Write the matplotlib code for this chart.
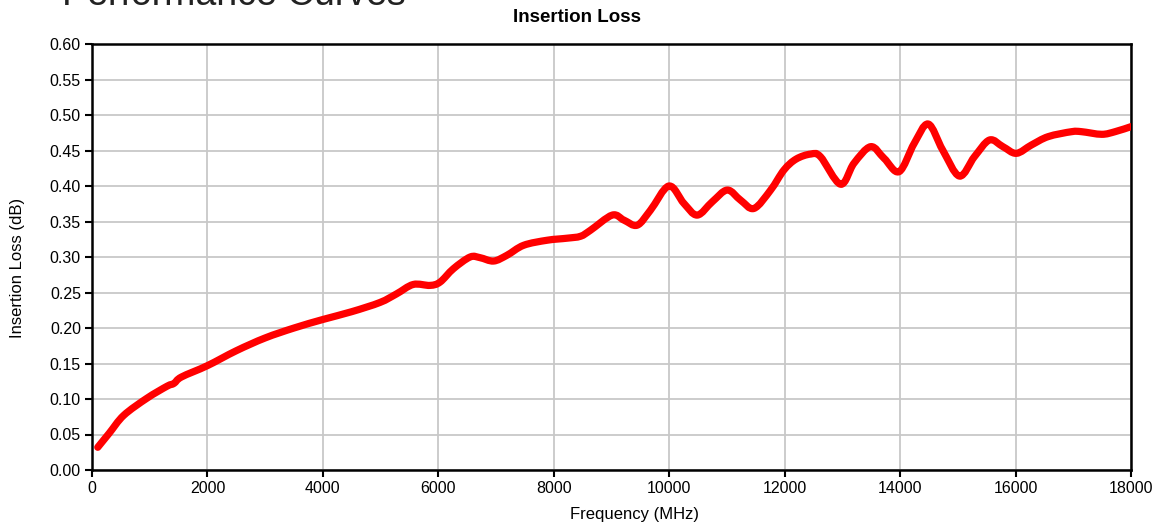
import matplotlib
matplotlib.use("Agg")
import matplotlib.pyplot as plt
from matplotlib.path import Path
from matplotlib.patches import PathPatch

plt.rcParams['font.family'] = ['Liberation Sans', 'DejaVu Sans']

freq_mhz = [100, 300, 550, 950, 1300, 1420, 1550, 2000, 2500, 3000, 3500, 4000,
            4500, 4990, 5275, 5565, 5855, 6029, 6261, 6551, 6725, 6957, 7188,
            7478, 7884, 8232, 8464, 8636, 9012, 9214, 9445, 9676, 9994, 10254,
            10485, 10746, 11006, 11237, 11468, 11757, 11988, 12200, 12452,
            12620, 12968, 13200, 13490, 13722, 13983, 14244, 14487, 14737,
            15027, 15288, 15549, 15781, 16013, 16274, 16564, 16970, 17144,
            17492, 17724, 18000]
insertion_loss_db = [0.032, 0.052, 0.077, 0.101, 0.118, 0.122, 0.131, 0.147,
                     0.168, 0.186, 0.200, 0.212, 0.223, 0.236, 0.248, 0.2613,
                     0.260, 0.2646, 0.2835, 0.300, 0.299, 0.2943, 0.3024,
                     0.3165, 0.3236, 0.3265, 0.3292, 0.3377, 0.359, 0.352,
                     0.3448, 0.366, 0.400, 0.3755, 0.359, 0.3778, 0.3943,
                     0.380, 0.3684, 0.3943, 0.4226, 0.438, 0.445, 0.4413,
                     0.4025, 0.432, 0.4554, 0.439, 0.4202, 0.460, 0.4873,
                     0.4507, 0.414, 0.4413, 0.4648, 0.4554, 0.446, 0.4577,
                     0.4695, 0.4765, 0.4765, 0.4728, 0.4765, 0.4836]

x_ticks = [0, 2000, 4000, 6000, 8000, 10000, 12000, 14000, 16000, 18000]
y_ticks = [0.00, 0.05, 0.10, 0.15, 0.20, 0.25, 0.30, 0.35, 0.40, 0.45, 0.50, 0.55, 0.60]


def smooth_path(xs, ys):
    # Excel-style smoothed line: Catmull-Rom segments as cubic Beziers
    pts = list(zip(xs, ys))
    n = len(pts)
    verts = [pts[0]]
    codes = [Path.MOVETO]
    for i in range(n - 1):
        p0 = pts[i - 1] if i > 0 else pts[i]
        p1 = pts[i]
        p2 = pts[i + 1]
        p3 = pts[i + 2] if i + 2 < n else pts[i + 1]
        c1 = (p1[0] + (p2[0] - p0[0]) / 6, p1[1] + (p2[1] - p0[1]) / 6)
        c2 = (p2[0] - (p3[0] - p1[0]) / 6, p2[1] - (p3[1] - p1[1]) / 6)
        verts += [c1, c2, p2]
        codes += [Path.CURVE4] * 3
    return Path(verts, codes)


fig = plt.figure(figsize=(11.55, 5.25), dpi=100)
ax = fig.add_axes([92/1155, 1-470/525, (1131-92)/1155, (470-44)/525])

patch = PathPatch(smooth_path(freq_mhz, insertion_loss_db), fill=False,
                  edgecolor='#ff0000', lw=5.2, capstyle='round',
                  joinstyle='round', zorder=3)
ax.add_patch(patch)

ax.set_xlim(0, 18000)
ax.set_ylim(0, 0.60)
ax.set_xticks(x_ticks)
ax.set_yticks(y_ticks)
ax.set_xticklabels([str(t) for t in x_ticks])
ax.set_yticklabels([f"{t:.2f}" for t in y_ticks])
ax.grid(True, color='#c8c8c8', lw=1.3)
ax.set_axisbelow(True)
for s in ax.spines.values():
    s.set_color('black')
    s.set_linewidth(1.8)
ax.tick_params(axis='both', direction='out', length=5, width=1.5,
               labelsize=11.5, colors='black', pad=3)

fig.text(577/1155, 1-18/525, 'Insertion Loss', ha='center', va='center',
         fontsize=13.5, fontweight='bold')
fig.text(635/1155, 1-515/525, 'Frequency (MHz)', ha='center', va='center',
         fontsize=12)
fig.text(18/1155, 1-268/525, 'Insertion Loss (dB)', ha='center', va='center',
         rotation=90, fontsize=12)
fig.text(62/1155, 1-5/525, 'Performance Curves', ha='left', va='baseline',
         fontsize=27, color='#222222')

fig.savefig('out.png', dpi=100)
